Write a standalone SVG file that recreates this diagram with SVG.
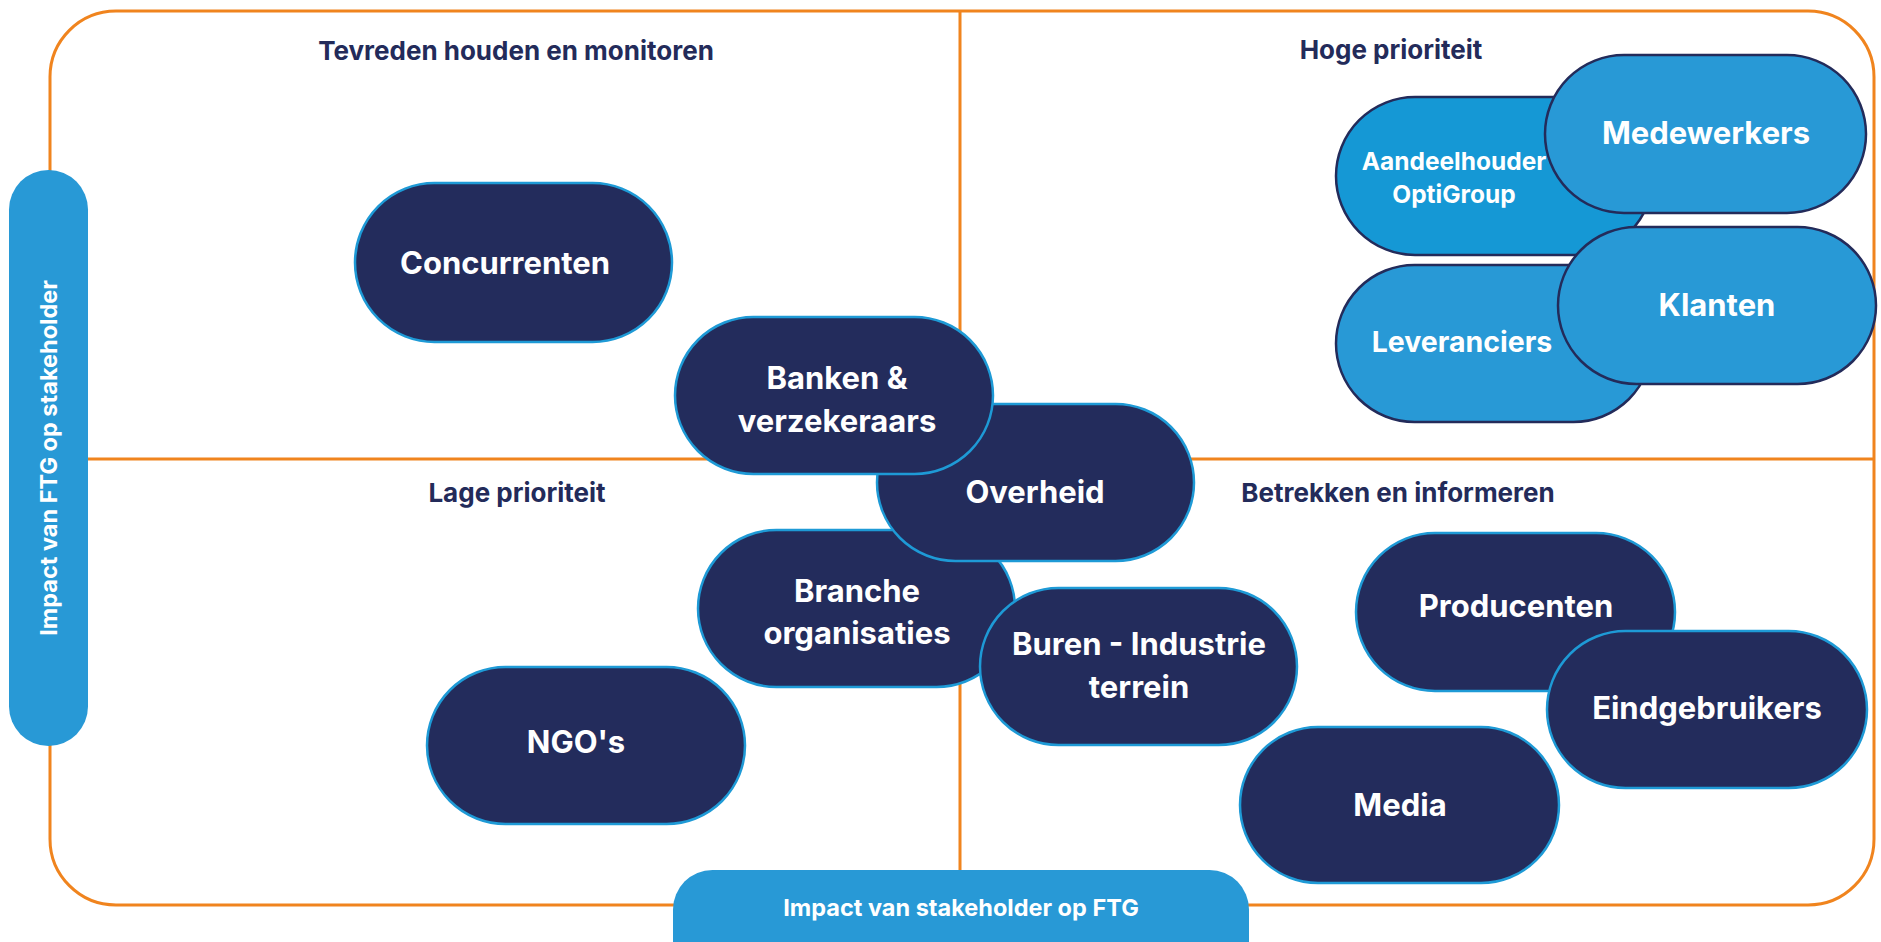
<svg xmlns="http://www.w3.org/2000/svg" width="1881" height="942" viewBox="0 0 1881 942">
<style>
.frame{fill:none;stroke:#F0841E;stroke-width:3}
.div{stroke:#F0841E;stroke-width:3;fill:none}
.axis{fill:#2899D6}
.axt{font-family:Inter,"Liberation Sans",sans-serif;font-weight:700;font-size:23.5px;fill:#fff;text-anchor:middle}
.title{font-family:Inter,"Liberation Sans",sans-serif;font-weight:700;font-size:26px;fill:#232B5A;text-anchor:middle}
.dark{fill:#232C5C;stroke:#1E9AD6;stroke-width:2.5}
.light{fill:#2899D6;stroke:#232B5A;stroke-width:2.5}
.light2{fill:#1598D5;stroke:#232B5A;stroke-width:2.5}
.nt{font-family:Inter,"Liberation Sans",sans-serif;font-weight:700;font-size:31px;fill:#fff;text-anchor:middle}
.nm{font-family:Inter,"Liberation Sans",sans-serif;font-weight:700;font-size:28.5px;fill:#fff;text-anchor:middle}
.ns{font-family:Inter,"Liberation Sans",sans-serif;font-weight:700;font-size:24.5px;fill:#fff;text-anchor:middle}
</style>
<rect width="1881" height="942" fill="#fff"/>
<g id="connectors">
<rect class="frame" x="50" y="11" width="1824" height="894" rx="66" ry="66"/>
<line class="div" x1="960" y1="11" x2="960" y2="870"/>
<line class="div" x1="50" y1="459" x2="1874" y2="459"/>
</g>
<g id="axis-y">
<rect class="axis" x="9" y="170" width="79" height="576" rx="39.5" ry="39.5"/>
<text class="axt" transform="translate(57,458) rotate(-90)">Impact van FTG op stakeholder</text>
</g>
<g id="axis-x">
<rect class="axis" x="673" y="870" width="576" height="110" rx="39.5" ry="39.5"/>
<text class="axt" x="961" y="916">Impact van stakeholder op FTG</text>
</g>
<g id="titles">
<text class="title" x="516" y="60">Tevreden houden en monitoren</text>
<text class="title" x="1391" y="59">Hoge prioriteit</text>
<text class="title" x="517" y="502">Lage prioriteit</text>
<text class="title" x="1398" y="502">Betrekken en informeren</text>
</g>
<g id="node-concurrenten">
<rect class="dark" x="355" y="183" width="317" height="159" rx="79.5" ry="79.5"/>
<text class="nt" x="505" y="274">Concurrenten</text>
</g>
<g id="node-ngos">
<rect class="dark" x="427" y="667" width="318" height="157" rx="78.5" ry="78.5"/>
<text class="nt" x="576" y="753">NGO's</text>
</g>
<g id="node-branche">
<rect class="dark" x="698" y="530" width="317" height="157" rx="78.5" ry="78.5"/>
<text class="nt" x="857" y="602">Branche</text>
<text class="nt" x="857" y="644">organisaties</text>
</g>
<g id="node-overheid">
<rect class="dark" x="877" y="404" width="317" height="157" rx="78.5" ry="78.5"/>
<text class="nt" x="1035" y="503">Overheid</text>
</g>
<g id="node-banken">
<rect class="dark" x="675" y="317" width="318" height="157" rx="78.5" ry="78.5"/>
<text class="nt" x="837" y="389">Banken &amp;</text>
<text class="nt" x="837" y="432">verzekeraars</text>
</g>
<g id="node-buren">
<rect class="dark" x="980" y="588" width="317" height="157" rx="78.5" ry="78.5"/>
<text class="nt" x="1139" y="655">Buren - Industrie</text>
<text class="nt" x="1139" y="698">terrein</text>
</g>
<g id="node-producenten">
<rect class="dark" x="1356" y="533" width="319" height="158" rx="79" ry="79"/>
<text class="nt" x="1516" y="617">Producenten</text>
</g>
<g id="node-media">
<rect class="dark" x="1240" y="727" width="319" height="156" rx="78" ry="78"/>
<text class="nt" x="1400" y="816">Media</text>
</g>
<g id="node-eindgebruikers">
<rect class="dark" x="1547" y="631" width="320" height="157" rx="78.5" ry="78.5"/>
<text class="nt" x="1707" y="719">Eindgebruikers</text>
</g>
<g id="node-aandeelhouder">
<rect class="light2" x="1336" y="97" width="317" height="158" rx="79" ry="79"/>
<text class="ns" x="1454" y="170">Aandeelhouder</text>
<text class="ns" x="1454" y="203">OptiGroup</text>
</g>
<g id="node-leveranciers">
<rect class="light" x="1336" y="265" width="316" height="157" rx="78.5" ry="78.5"/>
<text class="nm" x="1462" y="352">Leveranciers</text>
</g>
<g id="node-medewerkers">
<rect class="light" x="1545" y="55" width="321" height="158" rx="79" ry="79"/>
<text class="nt" x="1706" y="144">Medewerkers</text>
</g>
<g id="node-klanten">
<rect class="light" x="1558" y="227" width="318" height="157" rx="78.5" ry="78.5"/>
<text class="nt" x="1717" y="316">Klanten</text>
</g>
</svg>
